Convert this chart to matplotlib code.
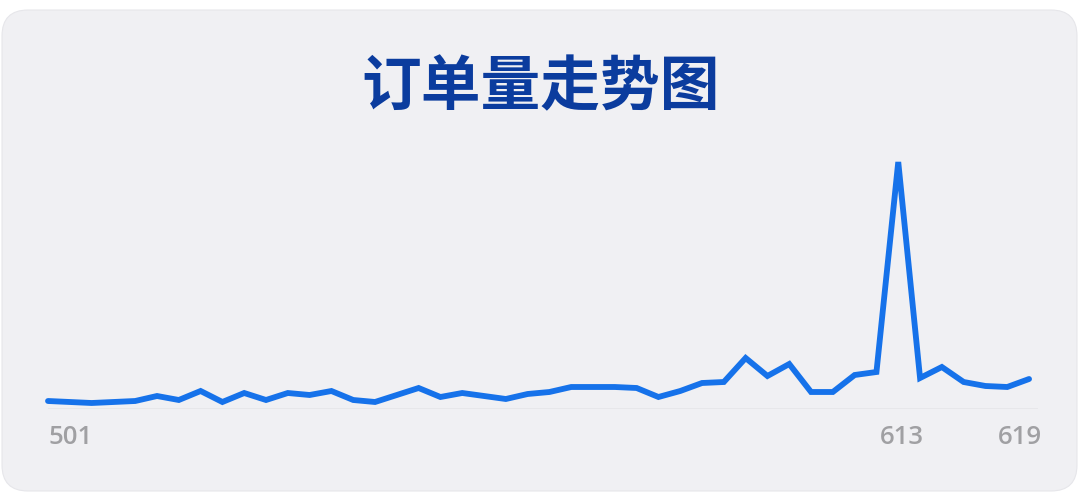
import matplotlib
matplotlib.use("Agg")
import matplotlib.pyplot as plt
from matplotlib.patches import FancyBboxPatch
from matplotlib.transforms import IdentityTransform

plt.rcParams['font.family'] = ['Noto Sans CJK SC', 'DejaVu Sans']

title = "订单量走势图"
orders = [8, 7, 6, 7, 8, 13, 9, 18, 7, 16, 9, 16, 14, 18, 9, 7, 14, 21, 12, 16,
          13, 10, 15, 17, 22, 22, 22, 21, 12, 18, 26, 27, 51, 33, 45, 17, 17, 34, 37, 247,
          31, 42, 27, 23, 22, 30]
tick_idx = [0, 39, 45]
tick_labels = ["501", "613", "619"]

W, H = 1080, 495
fig = plt.figure(figsize=(W / 100, H / 100), dpi=100)
fig.patch.set_facecolor("white")

panel = FancyBboxPatch((2, 4), 1075, 481, boxstyle="round,pad=0,rounding_size=26",
                       transform=IdentityTransform(), facecolor="#f0f0f3",
                       edgecolor="#e6e6ea", linewidth=0.8, zorder=-5)
fig.patches.append(panel)

fig.text(541 / W, 1 - 88 / H, title, ha="center", va="center", fontsize=43,
         fontweight="black", color="#0b3c9e", zorder=5)

# axes: x from 48px to 1038px, baseline at 409px, top at 159px
ax = fig.add_axes([48 / W, (H - 409) / H, (1038 - 48) / W, 250 / H])
ax.set_zorder(3)
ax.set_facecolor("none")
ax.patch.set_alpha(0)
n = len(orders)
xs = list(range(n))
ax.plot(xs, orders, color="#1672ea", linewidth=4.2, solid_joinstyle="miter",
        solid_capstyle="round", clip_on=False, zorder=3)
ax.set_xlim(0, 45.41)
ax.set_ylim(0, 250)
ax.axhline(0, color="#c4c4c8", linewidth=1.0, zorder=1)
for s in ax.spines.values():
    s.set_visible(False)
ax.set_xticks([])
ax.set_yticks([])

label_style = [("left", 0), ("center", 4), ("right", 13)]
for (ti, lab), (ha, dx) in zip(zip(tick_idx, tick_labels), label_style):
    ax.annotate(lab, xy=(ti, 0), xycoords="data", xytext=(dx, -28),
                textcoords="offset pixels", ha=ha, va="center", fontsize=18.5,
                color="#a0a0a3", fontfamily=["Open Sans", "DejaVu Sans"],
                fontweight="semibold", annotation_clip=False)

fig.savefig("out.png", dpi=100, facecolor="white")
